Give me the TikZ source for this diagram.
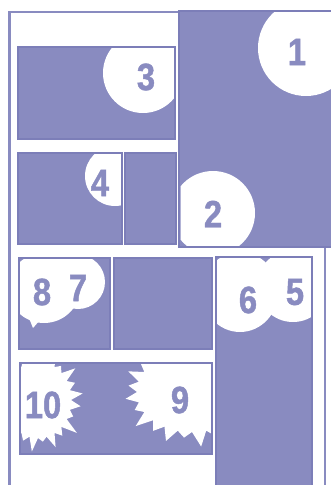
\documentclass[tikz,border=0pt]{standalone}
\usepackage{fontspec}
\newfontfamily\panelnum[FakeStretch=0.86, FakeBold=1.2]{Liberation Sans Bold}
\definecolor{comicBlue}{RGB}{137,139,192}
\definecolor{comicEdge}{RGB}{124,126,184}
\tikzset{
  panel/.style   = {fill=comicBlue},
  edge/.style    = {draw=comicEdge, line width=1.6pt},
  balloon/.style = {fill=white},
  num/.style     = {font=\panelnum\fontsize{38}{38}\selectfont,
                    text=comicBlue, inner sep=0pt},
  rule/.style    = {draw=comicBlue, line width=2.4pt}
}
\begin{document}
\begin{tikzpicture}[x=1pt, y=-1pt]
\useasboundingbox (0,0) rectangle (330,485);
% page frame
\draw[rule] (182,12) -- (9.3,12) -- (9.3,490);
\draw[rule] (325,246) -- (325,490);
% panels 1 and 2
\fill[panel] (179,11) rectangle (332,247);
\begin{scope}
  \clip (180.5,12.5) rectangle (332,245.5);
  \fill[balloon] (306,48) circle[radius=48];
  \fill[balloon] (213,213) circle[radius=42];
\end{scope}
\draw[edge] (179,11) rectangle (332,247);
% panel 3
\fill[panel] (18,47) rectangle (175,139);
\begin{scope}
  \clip (18,47) rectangle (175,139);
  \fill[balloon] (143,73) circle[radius=40];
\end{scope}
\draw[edge] (18,47) rectangle (175,139);
% panel 4 and its neighbour
\fill[panel] (18,153) rectangle (122,244);
\begin{scope}
  \clip (18,153) rectangle (122,244);
  \fill[balloon] (115,176) circle[radius=30];
\end{scope}
\draw[edge] (18,153) rectangle (122,244);
\fill[panel] (125,153) rectangle (176,244);
\draw[edge] (125,153) rectangle (176,244);
% panel with 8 and 7
\fill[panel] (19,258) rectangle (110,349);
\begin{scope}
  \clip (19,258) rectangle (110,349);
  \fill[balloon] (44,288) ellipse[x radius=36, y radius=35];
  \fill[balloon] (78,282) circle[radius=27];
  \fill[balloon] (29,318) -- (33,328) -- (40,320) -- cycle;
\end{scope}
\draw[edge] (19,258) rectangle (110,349);
% middle panel
\fill[panel] (114,258) rectangle (212,349);
\draw[edge] (114,258) rectangle (212,349);
% tall panel with 6 and 5
\fill[panel] (216,257) rectangle (312,492);
\begin{scope}
  \clip (216,257) rectangle (312,492);
  \fill[balloon] (240,292) ellipse[x radius=38, y radius=40];
  \fill[balloon] (293,286) circle[radius=36];
\end{scope}
\draw[edge] (216,257) rectangle (312,492);
% panel with 10 and 9
\fill[panel] (20,363) rectangle (212,454);
\begin{scope}
  \clip (20,363) rectangle (212,454);
  \fill[balloon, shift={(38,400)}] (0:33 and 38)
    \foreach \a/\s in {7.5/10,22.5/5,37.5/16,52.5/7,67.5/13,82.5/4,97.5/14,
                       112.5/6,127.5/15,142.5/9,157.5/12,172.5/5,187.5/14,
                       202.5/8,217.5/12,232.5/16,247.5/6,262.5/13,277.5/9,
                       292.5/15,307.5/5,322.5/14,337.5/7,352.5/12}
      { -- (\a:{33+\s} and {38+\s}) -- (\a+7.5:33 and 38) } -- cycle;
  \fill[balloon, shift={(192,392)}] (0:55 and 40)
    \foreach \a/\s in {7.5/9,22.5/14,37.5/6,52.5/12,67.5/8,82.5/15,97.5/6,
                       112.5/13,127.5/9,142.5/16,157.5/7,172.5/12,187.5/9,
                       202.5/14,217.5/11,232.5/8,247.5/13,262.5/9,277.5/12,
                       292.5/7,307.5/14,322.5/10,337.5/13,352.5/8}
      { -- (\a:{55+\s} and {40+\s}) -- (\a+7.5:55 and 40) } -- cycle;
\end{scope}
\draw[edge] (20,363) rectangle (212,454);
% panel numbers
\node[num] (n1)  at (297,52)  {1};
\node[num] (n2)  at (213,214) {2};
\node[num] (n3)  at (146,77)  {3};
\node[num] (n4)  at (100,183) {4};
\node[num] (n5)  at (295,292) {5};
\node[num] (n6)  at (248,300) {6};
\node[num] (n7)  at (78,288)  {7};
\node[num] (n8)  at (42,292)  {8};
\node[num] (n9)  at (180,400) {9};
\node[num] (n10) at (43,405)  {10};
\end{tikzpicture}
\end{document}
